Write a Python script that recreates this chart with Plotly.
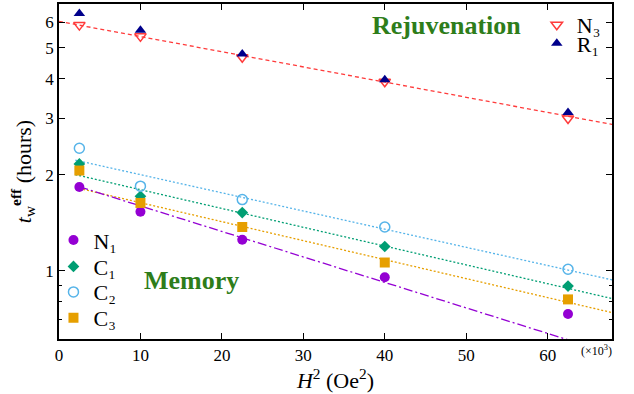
import numpy as np
import plotly.graph_objects as go

# ---- data (H^2 in units of 10^3 Oe^2, t_w^eff in hours) ----
H2 = [2.5, 10, 22.5, 40, 62.5]
N1 = [1.83, 1.53, 1.25, 0.953, 0.731]
C1 = [2.16, 1.71, 1.52, 1.19, 0.894]
C2 = [2.42, 1.84, 1.67, 1.37, 1.01]
C3 = [2.06, 1.63, 1.37, 1.06, 0.812]
N3 = [5.89, 5.43, 4.67, 3.91, 3.00]
R1 = [6.41, 5.67, 4.78, 3.97, 3.13]

# ---- fit lines: t = amp * 10**(rate * H2) ----
fit_names = ["N3", "C2", "C1", "C3", "N1"]
fit_amp = [6.05, 2.28, 2.055, 1.873, 1.918]
fit_rate = [-0.00476, -0.0057, -0.0059, -0.005955, -0.0080]
fit_start = [0, 2, 2, 2, 2.5]
fit_end = 68

x_ticks = [0, 10, 20, 30, 40, 50, 60]
y_ticks = [1, 2, 3, 4, 5, 6]
y_minor = [0.7, 0.8, 0.9]

legend_labels = {"N3": "N₃", "R1": "R₁", "N1": "N₁", "C1": "C₁", "C2": "C₂", "C3": "C₃"}

FONT = "Liberation Serif"
colors = {"N1": "#9400d3", "C1": "#009e73", "C2": "#56b4e9", "C3": "#e69f00",
          "N3": "#ff3b3b", "R1": "#00008b"}
dashes = {"N3": "4px,3px", "C2": "2px,2px", "C1": "2px,2px", "C3": "2px,2px",
          "N1": "9px,3px,2px,3px"}

# one legend box per entry: (legend id, paper x, paper y, y anchor)
legend_pos = {"N3": ("legend", 0.864, 1.0, "top"), "R1": ("legend2", 0.864, 0.882, "middle"),
              "N1": ("legend3", -0.01, 0.295, "middle"), "C1": ("legend4", -0.01, 0.216, "middle"),
              "C2": ("legend5", -0.01, 0.140, "middle"), "C3": ("legend6", -0.01, 0.063, "middle")}

fig = go.Figure()

for name, a, r, x0 in zip(fit_names, fit_amp, fit_rate, fit_start):
    xs = np.array([x0, fit_end])
    ys = a * 10 ** (r * xs)
    fig.add_trace(go.Scatter(x=xs, y=ys, mode="lines", showlegend=False,
                             line=dict(color=colors[name], width=1.3, dash=dashes[name]),
                             hoverinfo="skip"))

def pts(name, y, symbol, size, open_=False):
    c = colors[name]
    fig.add_trace(go.Scatter(
        x=H2, y=y, mode="markers", name=legend_labels[name],
        legend=legend_pos[name][0],
        marker=dict(symbol=symbol, size=size, color=c,
                    line=dict(color=c, width=1.5 if open_ else 0))))

pts("N3", N3, "triangle-down-open", 10, True)
pts("R1", R1, "triangle-up", 10)
pts("N1", N1, "circle", 10)
pts("C1", C1, "diamond", 9)
pts("C2", C2, "circle-open", 10, True)
pts("C3", C3, "square", 10)

axis_common = dict(showline=True, linecolor="black", linewidth=1.5, mirror="ticks",
                   ticks="inside", ticklen=6, tickwidth=1.2, tickcolor="black",
                   showgrid=False, zeroline=False,
                   tickfont=dict(family=FONT, size=17, color="black"))

legends = {}
for name, (lid, lx, ly, ya) in legend_pos.items():
    legends[lid] = dict(x=lx, y=ly, xanchor="left", yanchor=ya,
                        bgcolor="rgba(0,0,0,0)", font=dict(family=FONT, size=22),
                        itemsizing="trace")

fig.update_layout(
    width=634, height=394,
    margin=dict(l=59, r=22, t=2, b=55),
    paper_bgcolor="white", plot_bgcolor="white",
    font=dict(family=FONT, color="black"),
    xaxis=dict(range=[0, 67.9], tickvals=x_ticks,
               title=dict(text="<i>H</i><sup>2</sup> (Oe<sup>2</sup>)",
                          font=dict(family=FONT, size=22), standoff=4),
               **axis_common),
    yaxis=dict(type="log", range=[np.log10(0.61), np.log10(6.86)], tickvals=y_ticks,
               ticktext=[str(v) for v in y_ticks],
               minor=dict(tickvals=y_minor, ticks="inside", ticklen=3, tickwidth=1.2,
                          tickcolor="black"),
               title=dict(text="<i>t</i><sub>w</sub><sup><b>eff</b></sup> (hours)",
                          font=dict(family=FONT, size=22), standoff=8),
               **axis_common),
    annotations=[
        dict(text="Rejuvenation", xref="paper", yref="paper", x=0.7016, y=0.935,
             xanchor="center", yanchor="middle", showarrow=False,
             font=dict(family=FONT, size=26, color="#2e7d1a", weight="bold")),
        dict(text="Memory", xref="paper", yref="paper", x=0.2387, y=0.175,
             xanchor="center", yanchor="middle", showarrow=False,
             font=dict(family=FONT, size=26, color="#2e7d1a", weight="bold")),
        dict(text="(×10<sup>3</sup>)", xref="paper", yref="paper", x=1.004, y=0,
             xanchor="right", yanchor="middle", yshift=-11, showarrow=False,
             font=dict(family=FONT, size=12)),
    ],
)
fig.update_layout(**legends)

fig.write_html("out.html", config={"displayModeBar": False},
               post_script="document.body.style.margin='0px';")
